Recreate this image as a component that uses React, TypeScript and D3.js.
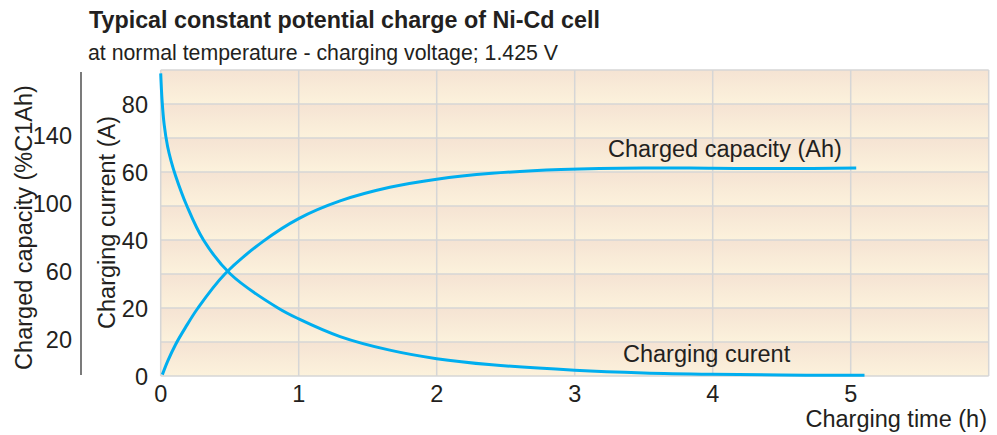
import React from "react";
import { scaleLinear, line, curveCatmullRom, range } from "d3";

const timeCurrent = [0, 0.01, 0.025, 0.05, 0.075, 0.107, 0.19, 0.31, 0.505, 0.85, 1.0, 1.3, 1.66, 2.0, 2.4, 3.0, 3.5, 4.0, 4.5, 5.0, 5.1];
const current = [89, 81, 74, 67.5, 63.3, 59, 50, 40, 30, 20, 16.8, 11.6, 7.6, 5.1, 3.3, 1.7, 0.9, 0.5, 0.3, 0.2, 0.2];

const timeCapacity = [0.012, 0.05, 0.107, 0.18, 0.27, 0.465, 0.742, 1.0, 1.3, 1.66, 2.0, 2.4, 2.9, 3.5, 4.0, 4.5, 5.04];
const capacity = [0.4, 4.3, 9.2, 14.3, 20, 30, 39.6, 46.3, 51.5, 55.5, 57.9, 59.6, 60.7, 61.2, 61.1, 61.0, 61.2];

const timeTicks = [0, 1, 2, 3, 4, 5];
const currentTicks = [0, 20, 40, 60, 80];
const percentTicks = [20, 60, 100, 140];

const width = 997;
const height = 435;
const font = "'Liberation Sans', Arial, Helvetica, sans-serif";
const ink = "#231f20";
const blue = "#00aeef";

const App = () => {
  const x = scaleLinear().domain([0, 6]).range([160.7, 988.7]);
  const y = scaleLinear().domain([0, 90]).range([376, 70]);
  const yPct = scaleLinear().domain([0, 180]).range([376, 70]);

  const bands = range(0, 90, 10);
  const gridY = range(0, 100, 10);
  const gridX = range(0, 7, 1);

  const currentLine = line<number>()
    .x((d, i) => x(timeCurrent[i]))
    .y((d) => y(d))
    .curve(curveCatmullRom.alpha(0.5));

  const capacityLine = line<number>()
    .x((d, i) => x(timeCapacity[i]))
    .y((d) => y(d))
    .curve(curveCatmullRom.alpha(0.5));

  return (
    <svg
      width={width}
      height={height}
      style={{ position: "absolute", left: 0, top: 0, background: "#fff" }}
      fontFamily={font}
    >
      <defs>
        <linearGradient id="band" x1="0" y1="0" x2="0" y2="1">
          <stop offset="0%" stopColor="#f5e3d3" />
          <stop offset="100%" stopColor="#fcf2dc" />
        </linearGradient>
      </defs>

      {/* background bands */}
      {bands.map((b) => (
        <rect
          key={b}
          x={x(0)}
          y={y(b + 10)}
          width={x(6) - x(0)}
          height={y(b) - y(b + 10)}
          fill="url(#band)"
        />
      ))}

      {/* grid */}
      {gridY.map((g) => (
        <line key={"gy" + g} x1={x(0)} x2={x(6)} y1={y(g)} y2={y(g)} stroke="#d6d6d6" strokeWidth={1.5} />
      ))}
      {gridX.map((g) => (
        <line key={"gx" + g} x1={x(g)} x2={x(g)} y1={y(0)} y2={y(90)} stroke="#d6d6d6" strokeWidth={1.5} />
      ))}

      {/* curves */}
      <path d={currentLine(current) || ""} fill="none" stroke={blue} strokeWidth={3} />
      <path d={capacityLine(capacity) || ""} fill="none" stroke={blue} strokeWidth={3} />

      {/* title */}
      <text x={89} y={28} fontSize={23.3} fontWeight="bold" fill={ink}>
        Typical constant potential charge of Ni-Cd cell
      </text>
      <text x={88} y={60} fontSize={21.3} fill={ink}>
        at normal temperature - charging voltage; 1.425 V
      </text>

      {/* x axis */}
      {timeTicks.map((t) => (
        <text key={"xt" + t} x={x(t)} y={402} fontSize={23.5} textAnchor="middle" fill={ink}>
          {t}
        </text>
      ))}
      <text x={987} y={427} fontSize={23.5} textAnchor="end" fill={ink}>
        Charging time (h)
      </text>

      {/* current axis */}
      {currentTicks.map((t) => (
        <text key={"yc" + t} x={148} y={y(t) + 3} fontSize={23.5} textAnchor="end" dominantBaseline="middle" fill={ink}>
          {t}
        </text>
      ))}
      <text
        transform={`translate(115, 222.5) rotate(-90)`}
        fontSize={23.5}
        textAnchor="middle"
        fill={ink}
      >
        Charging current (A)
      </text>

      {/* percent axis */}
      <line x1={81} x2={81} y1={72} y2={375} stroke="#333" strokeWidth={1.3} />
      {percentTicks.map((t) => (
        <text key={"yp" + t} x={72} y={yPct(t)} fontSize={23.5} textAnchor="end" dominantBaseline="middle" fill={ink}>
          {t}
        </text>
      ))}
      <text
        transform={`translate(31.5, 227.5) rotate(-90)`}
        fontSize={23.5}
        textAnchor="middle"
        fill={ink}
      >
        Charged capacity (%C1Ah)
      </text>

      {/* curve labels */}
      <text x={608} y={157} fontSize={23.5} fill={ink}>
        Charged capacity (Ah)
      </text>
      <text x={623} y={362} fontSize={23.5} fill={ink}>
        Charging curent
      </text>
    </svg>
  );
};

export default App;
